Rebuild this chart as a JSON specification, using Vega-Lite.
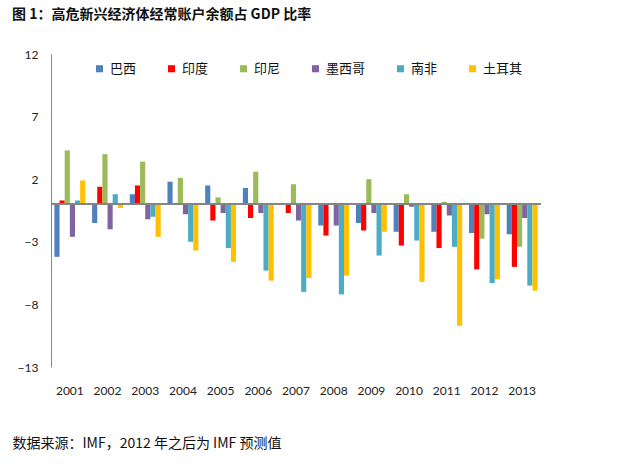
{
  "$schema": "https://vega.github.io/schema/vega-lite/v6.json",
  "width": 490,
  "height": 313,
  "autosize": {"type": "none"},
  "padding": {"left": 51, "top": 54, "right": 99, "bottom": 101},
  "background": "white",
  "title": {
    "text": "图 1：高危新兴经济体经常账户余额占 GDP 比率",
    "anchor": "start",
    "frame": "group",
    "dx": -39,
    "offset": 26,
    "font": "Noto Sans CJK SC",
    "fontSize": 14,
    "fontWeight": "bold",
    "color": "#111111"
  },
  "config": {
    "view": {"stroke": null},
    "axis": {"grid": false}
  },
  "data": {
    "values": [
      {"year": "2001", "country": "巴西", "value": -4.2},
      {"year": "2001", "country": "印度", "value": 0.3},
      {"year": "2001", "country": "印尼", "value": 4.3},
      {"year": "2001", "country": "墨西哥", "value": -2.6},
      {"year": "2001", "country": "南非", "value": 0.3},
      {"year": "2001", "country": "土耳其", "value": 1.9},
      {"year": "2002", "country": "巴西", "value": -1.5},
      {"year": "2002", "country": "印度", "value": 1.4},
      {"year": "2002", "country": "印尼", "value": 4.0},
      {"year": "2002", "country": "墨西哥", "value": -2.0},
      {"year": "2002", "country": "南非", "value": 0.8},
      {"year": "2002", "country": "土耳其", "value": -0.3},
      {"year": "2003", "country": "巴西", "value": 0.8},
      {"year": "2003", "country": "印度", "value": 1.5},
      {"year": "2003", "country": "印尼", "value": 3.4},
      {"year": "2003", "country": "墨西哥", "value": -1.2},
      {"year": "2003", "country": "南非", "value": -1.0},
      {"year": "2003", "country": "土耳其", "value": -2.6},
      {"year": "2004", "country": "巴西", "value": 1.8},
      {"year": "2004", "country": "印度", "value": 0.1},
      {"year": "2004", "country": "印尼", "value": 2.1},
      {"year": "2004", "country": "墨西哥", "value": -0.8},
      {"year": "2004", "country": "南非", "value": -3.0},
      {"year": "2004", "country": "土耳其", "value": -3.7},
      {"year": "2005", "country": "巴西", "value": 1.5},
      {"year": "2005", "country": "印度", "value": -1.3},
      {"year": "2005", "country": "印尼", "value": 0.55},
      {"year": "2005", "country": "墨西哥", "value": -0.7},
      {"year": "2005", "country": "南非", "value": -3.5},
      {"year": "2005", "country": "土耳其", "value": -4.6},
      {"year": "2006", "country": "巴西", "value": 1.3},
      {"year": "2006", "country": "印度", "value": -1.1},
      {"year": "2006", "country": "印尼", "value": 2.6},
      {"year": "2006", "country": "墨西哥", "value": -0.7},
      {"year": "2006", "country": "南非", "value": -5.3},
      {"year": "2006", "country": "土耳其", "value": -6.1},
      {"year": "2007", "country": "巴西", "value": 0.1},
      {"year": "2007", "country": "印度", "value": -0.7},
      {"year": "2007", "country": "印尼", "value": 1.6},
      {"year": "2007", "country": "墨西哥", "value": -1.3},
      {"year": "2007", "country": "南非", "value": -7.0},
      {"year": "2007", "country": "土耳其", "value": -5.9},
      {"year": "2008", "country": "巴西", "value": -1.7},
      {"year": "2008", "country": "印度", "value": -2.5},
      {"year": "2008", "country": "印尼", "value": 0.0},
      {"year": "2008", "country": "墨西哥", "value": -1.7},
      {"year": "2008", "country": "南非", "value": -7.2},
      {"year": "2008", "country": "土耳其", "value": -5.7},
      {"year": "2009", "country": "巴西", "value": -1.5},
      {"year": "2009", "country": "印度", "value": -2.1},
      {"year": "2009", "country": "印尼", "value": 2.0},
      {"year": "2009", "country": "墨西哥", "value": -0.7},
      {"year": "2009", "country": "南非", "value": -4.1},
      {"year": "2009", "country": "土耳其", "value": -2.2},
      {"year": "2010", "country": "巴西", "value": -2.2},
      {"year": "2010", "country": "印度", "value": -3.3},
      {"year": "2010", "country": "印尼", "value": 0.8},
      {"year": "2010", "country": "墨西哥", "value": -0.2},
      {"year": "2010", "country": "南非", "value": -2.9},
      {"year": "2010", "country": "土耳其", "value": -6.2},
      {"year": "2011", "country": "巴西", "value": -2.2},
      {"year": "2011", "country": "印度", "value": -3.5},
      {"year": "2011", "country": "印尼", "value": 0.2},
      {"year": "2011", "country": "墨西哥", "value": -0.9},
      {"year": "2011", "country": "南非", "value": -3.4},
      {"year": "2011", "country": "土耳其", "value": -9.7},
      {"year": "2012", "country": "巴西", "value": -2.3},
      {"year": "2012", "country": "印度", "value": -5.2},
      {"year": "2012", "country": "印尼", "value": -2.75},
      {"year": "2012", "country": "墨西哥", "value": -0.8},
      {"year": "2012", "country": "南非", "value": -6.3},
      {"year": "2012", "country": "土耳其", "value": -6.0},
      {"year": "2013", "country": "巴西", "value": -2.4},
      {"year": "2013", "country": "印度", "value": -5.0},
      {"year": "2013", "country": "印尼", "value": -3.4},
      {"year": "2013", "country": "墨西哥", "value": -1.1},
      {"year": "2013", "country": "南非", "value": -6.5},
      {"year": "2013", "country": "土耳其", "value": -6.9}
    ]
  },
  "layer": [
    {
      "mark": {"type": "bar"},
      "encoding": {
        "x": {
          "field": "year",
          "type": "nominal",
          "scale": {"paddingInner": 0.18, "paddingOuter": 0.09},
          "axis": {
            "orient": "bottom",
            "domain": false,
            "ticks": false,
            "labelAngle": 0,
            "labelPadding": 18,
            "labelFont": "Lato",
            "labelFontSize": 12,
            "labelColor": "#222222",
            "title": "数据来源：IMF，2012 年之后为 IMF 预测值",
            "titleFont": "Noto Sans CJK SC",
            "titleFontSize": 14,
            "titleFontWeight": "normal",
            "titleColor": "#111111",
            "titleAnchor": "start",
            "titleAlign": "left",
            "titleBaseline": "middle",
            "titleX": -39,
            "titleY": 76
          }
        },
        "xOffset": {
          "field": "country",
          "type": "nominal",
          "sort": ["巴西", "印度", "印尼", "墨西哥", "南非", "土耳其"],
          "scale": {"paddingInner": 0, "paddingOuter": 0}
        },
        "y": {
          "field": "value",
          "type": "quantitative",
          "scale": {"domain": [-13, 12], "nice": false, "zero": false},
          "axis": {
            "values": [12, 7, 2, -3, -8, -13],
            "title": null,
            "ticks": false,
            "domainColor": "#868686",
            "labelPadding": 13,
            "labelFont": "Lato",
            "labelFontSize": 12,
            "labelColor": "#222222"
          }
        },
        "color": {
          "field": "country",
          "type": "nominal",
          "scale": {
            "domain": ["巴西", "印度", "印尼", "墨西哥", "南非", "土耳其"],
            "range": ["#4F81BD", "#FF0000", "#9BBB59", "#8064A2", "#4BACC6", "#FFC000"]
          },
          "legend": {
            "orient": "none",
            "direction": "horizontal",
            "legendX": 42,
            "legendY": 8,
            "title": null,
            "symbolType": "square",
            "symbolSize": 50,
            "symbolStrokeWidth": 0,
            "labelFont": "Noto Sans CJK SC",
            "labelFontSize": 13,
            "labelColor": "#111111",
            "labelOffset": 4,
            "columnPadding": 28
          }
        }
      }
    },
    {
      "mark": {"type": "rule", "color": "#868686", "strokeWidth": 1},
      "encoding": {"y": {"datum": 0}}
    }
  ]
}
